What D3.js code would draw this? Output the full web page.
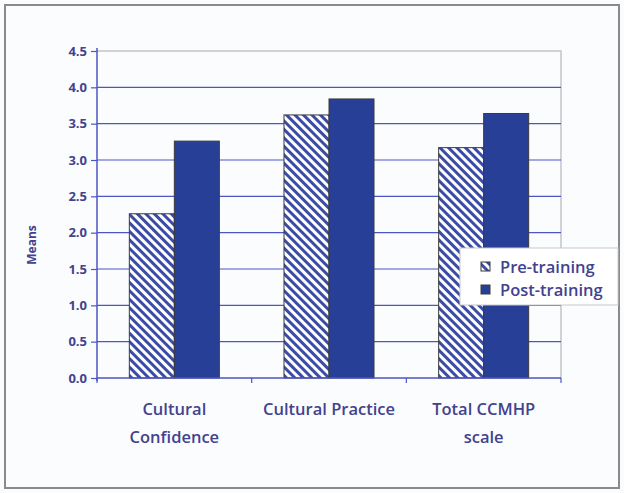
<!DOCTYPE html>
<html>
<head>
<meta charset="utf-8">
<script src="https://cdn.jsdelivr.net/npm/d3@7"></script>
<style>
  html, body { margin: 0; padding: 0; background: #ffffff; }
  svg { display: block; }
</style>
</head>
<body>
<svg id="chart" width="624" height="493"></svg>
<script>
// Mean scores before and after training
const categories = [["Cultural", "Confidence"], ["Cultural Practice"], ["Total CCMHP", "scale"]];
const seriesNames = ["Pre-training", "Post-training"];
const preTraining = [2.26, 3.62, 3.17];
const postTraining = [3.26, 3.84, 3.64];
const yTicks = [0, 0.5, 1, 1.5, 2, 2.5, 3, 3.5, 4, 4.5];

const gridBlue = "#4e55c4";
const textBlue = "#42428f";
const solidBlue = "#283f98";
const hatchBlue = "#3b4ca6";
const font = "'Open Sans', sans-serif";

const svg = d3.select("#chart");
const W = 624, H = 493;

svg.append("rect").attr("x", 0).attr("y", 0).attr("width", W).attr("height", H).attr("fill", "#fbfcfd");
// outer frame
svg.append("rect").attr("x", 5).attr("y", 5).attr("width", 614).attr("height", 483)
  .attr("fill", "#fbfcfd").attr("stroke", "#8a8a8a").attr("stroke-width", 2);

const defs = svg.append("defs");
const pat = defs.append("pattern").attr("id", "hatch").attr("patternUnits", "userSpaceOnUse")
  .attr("width", 6).attr("height", 6).attr("patternTransform", "rotate(45)");
pat.append("rect").attr("width", 6).attr("height", 6).attr("fill", "#ffffff");
pat.append("rect").attr("x", 0).attr("y", 0).attr("width", 6).attr("height", 3).attr("fill", hatchBlue);

const plot = { left: 97, right: 561, top: 51, bottom: 378 };

const x = d3.scaleBand().domain(d3.range(categories.length))
  .range([plot.left, plot.right]).paddingInner(0.418).paddingOuter(0.209);
const xs = d3.scaleBand().domain(seriesNames).range([0, x.bandwidth()]);
const y = d3.scaleLinear().domain([0, 4.5]).range([plot.bottom, plot.top]);

// plot frame (top and right edges)
svg.append("path")
  .attr("d", `M${plot.left},${plot.top}H${plot.right}V${plot.bottom}`)
  .attr("fill", "none").attr("stroke", "#c4c4c8").attr("stroke-width", 1.5);

// horizontal gridlines
svg.append("g").selectAll("line").data(yTicks.filter(t => t > 0 && t < 4.5)).join("line")
  .attr("x1", plot.left).attr("x2", plot.right)
  .attr("y1", d => y(d)).attr("y2", d => y(d))
  .attr("stroke", gridBlue).attr("stroke-width", 1.2);

// bars
const data = categories.map((c, i) => ({ i, values: [preTraining[i], postTraining[i]] }));
const groups = svg.append("g").selectAll("g").data(data).join("g")
  .attr("transform", d => `translate(${x(d.i)},0)`);
groups.selectAll("rect").data(d => d.values.map((v, k) => ({ v, s: seriesNames[k] }))).join("rect")
  .attr("x", d => xs(d.s)).attr("width", xs.bandwidth())
  .attr("y", d => y(d.v)).attr("height", d => y(0) - y(d.v))
  .attr("fill", d => d.s === seriesNames[0] ? "url(#hatch)" : solidBlue)
  .attr("stroke", "#3a3a3a").attr("stroke-width", 1);

// y axis
const yAxis = d3.axisLeft(y).tickValues(yTicks).tickFormat(d3.format(".1f")).tickSize(6).tickPadding(4);
const gy = svg.append("g").attr("transform", `translate(${plot.left},0)`).call(yAxis);
gy.select(".domain").attr("stroke", gridBlue).attr("stroke-width", 1.5).attr("d", `M0,${plot.top - 3}V${plot.bottom + 3}`);
gy.selectAll(".tick line").attr("stroke", gridBlue).attr("stroke-width", 1.2);
gy.selectAll(".tick text").attr("fill", textBlue).attr("font-family", font)
  .attr("font-size", 13).attr("font-weight", 700);

// x axis
const xTickPos = d3.range(categories.length + 1).map(k => plot.left + k * x.step());
const gx = svg.append("g");
gx.append("line").attr("x1", plot.left).attr("x2", plot.right).attr("y1", plot.bottom).attr("y2", plot.bottom)
  .attr("stroke", gridBlue).attr("stroke-width", 1.5);
gx.selectAll("line.t").data(xTickPos).join("line").attr("class", "t")
  .attr("x1", d => d).attr("x2", d => d).attr("y1", plot.bottom).attr("y2", plot.bottom + 5)
  .attr("stroke", gridBlue).attr("stroke-width", 1.2);
gx.selectAll("text").data(data).join("text")
  .attr("x", d => x(d.i) + x.bandwidth() / 2)
  .attr("y", 415)
  .attr("text-anchor", "middle")
  .attr("fill", textBlue).attr("font-family", font).attr("font-size", 16.5).attr("font-weight", 600)
  .each(function (d) {
    const t = d3.select(this);
    categories[d.i].forEach((line, j) => {
      t.append("tspan").attr("x", x(d.i) + x.bandwidth() / 2).attr("dy", j === 0 ? 0 : 28).text(line);
    });
  });

// y axis title
svg.append("text").attr("transform", "translate(36,245) rotate(-90)")
  .attr("text-anchor", "middle").attr("fill", textBlue)
  .attr("font-family", font).attr("font-size", 12).attr("font-weight", 700)
  .text("Means");

// legend
const lg = svg.append("g").attr("transform", "translate(460,248)");
lg.append("rect").attr("width", 158).attr("height", 57).attr("fill", "#ffffff")
  .attr("stroke", "#c8c8cc").attr("stroke-width", 1);
seriesNames.forEach((name, k) => {
  const row = lg.append("g").attr("transform", `translate(21,${14 + k * 23})`);
  row.append("rect").attr("width", 9).attr("height", 9)
    .attr("fill", k === 0 ? "url(#hatch)" : solidBlue).attr("stroke", "#3a3a3a").attr("stroke-width", 1);
  row.append("text").attr("x", 19).attr("y", 10.5)
    .attr("fill", textBlue).attr("font-family", font).attr("font-size", 16.5).attr("font-weight", 600)
    .text(name);
});
</script>
</body>
</html>
